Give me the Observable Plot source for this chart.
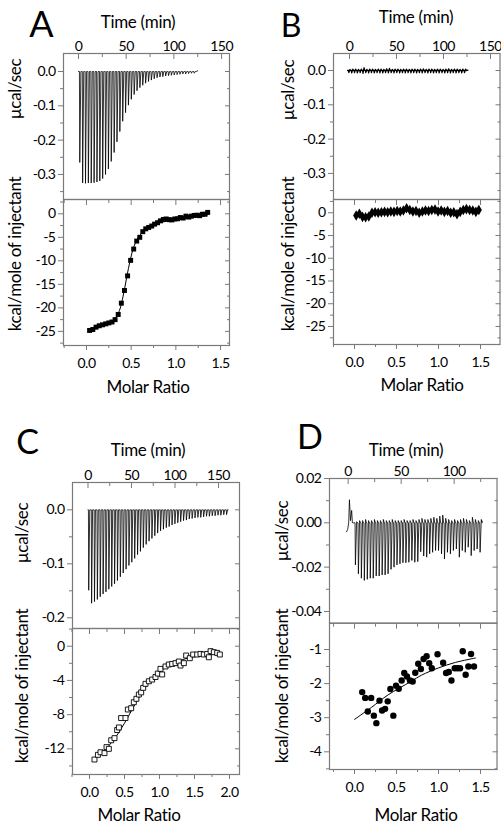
<!DOCTYPE html>
<html><head><meta charset="utf-8">
<script src="https://cdn.jsdelivr.net/npm/d3@7"></script>
<script src="https://cdn.jsdelivr.net/npm/@observablehq/plot@0.6"></script>
<style>
body{margin:0;background:#fff;}
#wrap{position:relative;width:501px;height:826px;overflow:hidden;font-family:Lato,sans-serif;color:#000;}
#wrap svg{position:absolute;left:0;top:0;overflow:visible;}
#wrap svg text{letter-spacing:-0.5px;}
.lbl{position:absolute;white-space:nowrap;line-height:1.2;transform:translate(-50%,-50%);font-size:17px;letter-spacing:-0.3px;}
.rot{transform:translate(-50%,-50%) rotate(-90deg);}
</style></head><body><div id="wrap"></div>
<script>
// ---------- Panel A ----------
const aTime = [1,4,7,10,13,16,19,22,25,28,31,34,37,40,43,46,49,52,55,58,61,64,67,70,73,76,79,82,85,88,91,94,97,100,103,106,109,112,115,118,121];
const aPeak = [-0.265,-0.325,-0.326,-0.325,-0.325,-0.324,-0.322,-0.319,-0.312,-0.30,-0.284,-0.262,-0.236,-0.205,-0.175,-0.145,-0.12,-0.098,-0.081,-0.067,-0.056,-0.047,-0.04,-0.034,-0.029,-0.025,-0.021,-0.018,-0.016,-0.015,-0.013,-0.012,-0.011,-0.01,-0.009,-0.008,-0.007,-0.007,-0.006,-0.005,-0.005];
const aRatio = [0.035,0.071,0.107,0.143,0.179,0.215,0.25,0.286,0.32,0.355,0.39,0.425,0.46,0.494,0.528,0.562,0.596,0.63,0.663,0.696,0.73,0.762,0.795,0.827,0.86,0.892,0.924,0.956,0.988,1.02,1.05,1.082,1.113,1.144,1.175,1.205,1.236,1.266,1.296,1.326,1.356];
const aHeat = [-24.8,-24.6,-24.1,-23.8,-23.6,-23.4,-23.2,-23.0,-22.5,-21.4,-19.0,-16.3,-13.2,-9.9,-7.5,-5.8,-5.0,-3.8,-3.2,-2.9,-2.6,-2.2,-1.9,-1.5,-1.2,-1.1,-1.25,-1.3,-1.1,-1.05,-0.8,-0.9,-0.5,-0.7,-0.5,-0.35,-0.3,-0.4,-0.1,-0.1,0.3];
const aFitX = [0.035,0.15,0.25,0.32,0.37,0.41,0.45,0.49,0.53,0.58,0.64,0.72,0.82,0.95,1.1,1.25,1.356];
const aFitY = [-24.7,-24.0,-23.2,-22.3,-20.5,-17.5,-13.5,-9.8,-7.0,-5.0,-3.7,-2.7,-1.9,-1.4,-1.0,-0.6,-0.2];

// ---------- Panel B ----------
const bTime = [-1,2,5,8,11,14,17,20,23,26,29,32,35,38,41,44,47,50,53,56,59,62,65,68,71,74,77,80,83,86,89,92,95,98,101,104,107,110,113,116,119,122];
const bPeak = [-0.006,-0.007,-0.006,-0.007,-0.006,-0.008,-0.006,-0.007,-0.006,-0.007,-0.006,-0.007,-0.007,-0.006,-0.007,-0.006,-0.007,-0.006,-0.007,-0.006,-0.007,-0.006,-0.007,-0.006,-0.007,-0.006,-0.007,-0.006,-0.007,-0.006,-0.007,-0.006,-0.007,-0.006,-0.007,-0.006,-0.007,-0.006,-0.007,-0.006,-0.007,-0.006];
const bPost = [0.003,0.004,0.004,0.003,0.004,0.008,0.003,0.004,0.004,0.003,0.004,0.004,0.003,0.005,0.006,0.003,0.004,0.004,0.003,0.004,0.004,0.003,0.004,0.004,0.003,0.004,0.005,0.003,0.004,0.004,0.003,0.004,0.004,0.003,0.004,0.005,0.003,0.004,0.004,0.003,0.004,0.004];
const bRatio = [0.02,0.058,0.095,0.132,0.17,0.208,0.245,0.282,0.32,0.358,0.395,0.432,0.47,0.508,0.545,0.582,0.62,0.658,0.695,0.732,0.77,0.808,0.845,0.882,0.92,0.958,0.995,1.032,1.07,1.108,1.145,1.182,1.22,1.258,1.295,1.332,1.37,1.408,1.445,1.48];
const bHeat = [-0.6,-0.2,-0.9,-1.0,-0.8,0.0,0.1,0.0,0.1,0.2,0.1,0.3,0.2,0.4,0.3,0.5,1.0,0.6,0.3,0.4,0.0,0.3,0.5,0.4,0.6,0.7,0.3,0.5,0.2,0.4,0.0,0.1,-0.3,0.2,0.6,0.8,0.6,0.5,0.2,0.6];

// ---------- Panel C ----------
const cTime = [0.5,3.8,7.1,10.4,13.7,17,20.3,23.6,26.9,30.2,33.5,36.8,40.1,43.4,46.7,50,53.3,56.6,59.9,63.2,66.5,69.8,73.1,76.4,79.7,83,86.3,89.6,92.9,96.2,99.5,102.8,106.1,109.4,112.7,116,119.3,122.6,125.9,129.2,132.5,135.8,139.1,142.4,145.7,149,152.3,155.6,158.9];
const cPeak = [-0.149,-0.173,-0.170,-0.166,-0.161,-0.156,-0.152,-0.147,-0.142,-0.137,-0.131,-0.124,-0.117,-0.11,-0.103,-0.097,-0.09,-0.083,-0.077,-0.07,-0.064,-0.058,-0.053,-0.048,-0.043,-0.039,-0.036,-0.033,-0.031,-0.028,-0.026,-0.024,-0.022,-0.02,-0.019,-0.017,-0.016,-0.015,-0.014,-0.014,-0.013,-0.012,-0.012,-0.011,-0.011,-0.01,-0.01,-0.009,-0.009];
const cRatio = [0.071,0.12,0.157,0.214,0.243,0.276,0.31,0.357,0.395,0.42,0.452,0.514,0.548,0.595,0.633,0.67,0.705,0.738,0.767,0.8,0.848,0.895,0.943,0.976,1.014,1.038,1.086,1.133,1.181,1.229,1.276,1.3,1.348,1.381,1.433,1.481,1.538,1.586,1.633,1.681,1.705,1.73,1.776,1.824,1.862];
const cHeat = [-13.25,-12.7,-12.4,-12.5,-11.8,-12.0,-11.0,-10.75,-9.8,-9.5,-8.4,-8.4,-7.4,-7.25,-6.55,-6.15,-5.65,-5.4,-4.87,-4.4,-4.1,-3.9,-3.6,-3.2,-2.65,-3.3,-2.37,-2.14,-2.07,-1.98,-1.79,-2.26,-1.98,-1.09,-1.4,-0.97,-0.97,-0.9,-0.97,-0.9,-1.29,-0.58,-0.7,-0.78,-0.97];
const cFitX = [0.06,0.2,0.35,0.5,0.65,0.8,0.95,1.1,1.25,1.4,1.6,1.86];
const cFitY = [-13.3,-12.3,-10.9,-9.0,-6.8,-4.8,-3.4,-2.4,-1.8,-1.4,-1.1,-0.85];

// ---------- Panel D ----------
const dPreT = [-1.5,-0.5,0.5,1.2,2.2,3.3,4.0,5.0];
const dPreV = [-0.004,-0.003,0.0,0.0104,0.001,0.0056,0.0,0.0];
const dTime = [6.5,9.3,12.1,14.9,17.7,20.5,23.3,26.1,28.9,31.7,34.5,37.3,40.1,42.9,45.7,48.5,51.3,54.1,56.9,59.7,62.5,65.3,68.1,70.9,73.7,76.5,79.3,82.1,84.9,87.7,90.5,93.3,96.1,98.9,101.7,104.5,107.3,110.1,112.9,115.7,118.5,121.3,124.1];
const dPeak = [-0.019,-0.023,-0.025,-0.026,-0.0255,-0.025,-0.025,-0.024,-0.024,-0.0235,-0.0235,-0.023,-0.021,-0.02,-0.019,-0.0185,-0.018,-0.018,-0.0178,-0.017,-0.0178,-0.0175,-0.013,-0.015,-0.0155,-0.014,-0.0133,-0.0125,-0.0125,-0.014,-0.0163,-0.0133,-0.014,-0.0125,-0.0118,-0.0155,-0.0125,-0.0133,-0.011,-0.0148,-0.0125,-0.0118,-0.0133];
const dPost = [0.0005,0.001,0.001,0.0015,0.001,0.001,0.0015,0.001,0.001,0.0015,0.001,0.001,0.0015,0.001,0.001,0.001,0.0015,0.001,0.001,0.0015,0.001,0.0015,0.002,0.0015,0.0015,0.002,0.0025,0.002,0.003,0.0035,0.002,0.0015,0.001,0.0015,0.001,0.0015,0.002,0.0015,0.001,0.0025,0.0015,0.001,0.0015];
const dRatio = [0.091,0.127,0.158,0.198,0.23,0.26,0.297,0.328,0.364,0.395,0.427,0.462,0.494,0.526,0.561,0.592,0.624,0.66,0.692,0.723,0.758,0.79,0.822,0.858,0.889,0.92,0.988,1.055,1.09,1.122,1.154,1.193,1.225,1.256,1.288,1.323,1.355,1.387,1.422];
const dHeat = [-2.25,-2.42,-2.82,-2.42,-2.94,-3.16,-2.5,-2.79,-2.74,-2.52,-2.16,-2.94,-2.06,-2.15,-1.91,-1.69,-1.79,-1.91,-1.94,-1.68,-1.42,-1.57,-1.28,-1.2,-1.4,-1.55,-1.14,-1.39,-1.69,-1.66,-1.91,-1.55,-1.55,-1.55,-1.05,-1.74,-1.5,-1.13,-1.5];
const dFitX = [0.0,0.2,0.4,0.67,0.8,1.0,1.2,1.44];
const dFitY = [-3.05,-2.7,-2.33,-1.94,-1.75,-1.54,-1.38,-1.25];

// ---------- Tick values ----------
const timeMajor = [0,50,100,150];
const timeMinor = [25,75,125];
const rawMajorABC = [0,-0.1,-0.2,-0.3];
const rawMinorABC = [-0.05,-0.15,-0.25,-0.35];
const heatMajorAB = [0,-5,-10,-15,-20,-25];
const heatMinorAB = [2.5,-2.5,-7.5,-12.5,-17.5,-22.5,-27.5];
const ratioMajor = [0,0.5,1,1.5];
const ratioMajorC = [0,0.5,1,1.5,2];
const ratioMinor = [-0.25,0.25,0.75,1.25];
const ratioMinorC = [-0.25,0.25,0.75,1.25,1.75];
const heatMajorC = [0,-4,-8,-12];
const heatMinorC = [2,-2,-6,-10,-14];
const rawMajorD = [0.02,0,-0.02,-0.04];
const rawMinorD = [0.01,-0.01,-0.03];
const heatMajorD = [-1,-2,-3,-4];
const heatMinorD = [-1.5,-2.5,-3.5,-4.5];

// ---------- helpers ----------
const W = 501, H = 826, FR = "#7a7a7a";
const hy = d => (d < 0 ? "-" : "") + Math.abs(d);
const f1 = d => (d < 0 ? "-" : "") + Math.abs(d).toFixed(1);
const f2 = d => (d < 0 ? "-" : "") + Math.abs(d).toFixed(2);
const f0 = d => String(d);

function trace(times, peaks, post, preT, preV, endT, endV) {
  const pts = [];
  if (preT) preT.forEach((t, i) => pts.push({t, v: preV[i]}));
  times.forEach((t, i) => {
    pts.push({t, v: 0});
    pts.push({t: t + 0.35, v: peaks[i]});
    pts.push({t: t + 1.5, v: post ? post[i] : 0});
    pts.push({t: t + 2.3, v: 0});
  });
  if (endT !== undefined) pts.push({t: endT, v: endV});
  return pts;
}
const zip = (xs, ys) => xs.map((x, i) => ({x, y: ys[i]}));

function tk(axis, vals, anchor, size) {
  return axis(vals, {anchor, tickSize: size, tickFormat: () => "", label: null, stroke: FR, strokeWidth: 1});
}
function lab(axis, vals, anchor, pad, fmt) {
  return axis(vals, {anchor, tickSize: 0, tickPadding: pad, tickFormat: fmt, label: null, fill: "#000", fontSize: 14});
}

function sub(frame, xDom, yDom, marks) {
  const [x0, y0, x1, y1] = frame;
  const svg = Plot.plot({
    width: W, height: H,
    marginLeft: x0, marginRight: W - x1, marginTop: y0, marginBottom: H - y1,
    x: {domain: xDom}, y: {domain: yDom},
    style: {background: "transparent", overflow: "visible", fontFamily: "Lato, sans-serif", fontSize: "14px"},
    marks: [...marks, Plot.frame({stroke: FR, strokeWidth: 1.2})]
  });
  document.getElementById("wrap").appendChild(svg);
}

function topPanel(frame, xDom, yDom, xMaj, xMin, yMaj, yMin, yFmt, data, lw) {
  sub(frame, xDom, yDom, [
    Plot.line(data, {x: "t", y: "v", stroke: "#000", strokeWidth: lw || 0.8}),
    tk(Plot.axisX, xMaj, "top", -5), tk(Plot.axisX, xMin, "top", -3),
    lab(Plot.axisX, xMaj, "top", 3, f0),
    tk(Plot.axisY, yMaj, "left", 5), tk(Plot.axisY, yMin, "left", 3),
    tk(Plot.axisY, yMaj, "right", -5), tk(Plot.axisY, yMin, "right", -3),
    lab(Plot.axisY, yMaj, "left", 8, yFmt)
  ]);
}
function botPanel(frame, xDom, yDom, xMaj, xMin, yMaj, yMin, yFmt, extra) {
  sub(frame, xDom, yDom, [
    ...extra,
    tk(Plot.axisX, xMaj, "bottom", 5), tk(Plot.axisX, xMin, "bottom", 3),
    tk(Plot.axisX, xMaj, "top", -5), tk(Plot.axisX, xMin, "top", -3),
    lab(Plot.axisX, xMaj, "bottom", 13, f1),
    tk(Plot.axisY, yMaj, "left", 5), tk(Plot.axisY, yMin, "left", 3),
    tk(Plot.axisY, yMaj, "right", -5), tk(Plot.axisY, yMin, "right", -3),
    lab(Plot.axisY, yMaj, "left", 8, yFmt)
  ]);
}

// A
topPanel([63,53,229,199], [-15.7,158.3], [-0.373,0.0525], timeMajor, timeMinor, rawMajorABC, rawMinorABC, f1,
  trace(aTime, aPeak, null, [0], [0], 125, 0.002));
botPanel([63,199,229,345], [-0.257,1.6], [-28,3.04], ratioMajor, ratioMinor, heatMajorAB, heatMinorAB, hy, [
  Plot.line(zip(aFitX, aFitY), {x: "x", y: "y", curve: "catmull-rom", stroke: "#000", strokeWidth: 1}),
  Plot.dot(zip(aRatio, aHeat), {x: "x", y: "y", symbol: "square", r: 2.8, fill: "#000"})
]);
// B
topPanel([333,53,499.5,199], [-17,160.1], [-0.376,0.0496], timeMajor, timeMinor, rawMajorABC, rawMinorABC, f1,
  trace(bTime, bPeak, bPost, [-2], [0], 126, 0.001), 1.3);
botPanel([333,199,499.5,344], [-0.25,1.732], [-28.96,2.92], ratioMajor, ratioMinor, heatMajorAB, heatMinorAB, hy, [
  Plot.line(zip(bRatio, bHeat), {x: "x", y: "y", stroke: "#000", strokeWidth: 1.8}),
  Plot.dot(zip(bRatio, bHeat), {x: "x", y: "y", symbol: "diamond", r: 3.2, fill: "#000"})
]);
// C
topPanel([72,482,239,628], [-17.8,174.1], [-0.2198,0.0506], timeMajor, timeMinor, [0,-0.1,-0.2], [-0.05,-0.15], f1,
  trace(cTime, cPeak, null, [0], [0], 161, 0));
botPanel([72,628,239,774], [-0.243,2.143], [-15,2.07], ratioMajorC, ratioMinorC, heatMajorC, heatMinorC, hy, [
  Plot.line(zip(cFitX, cFitY), {x: "x", y: "y", curve: "catmull-rom", stroke: "#000", strokeWidth: 1}),
  Plot.dot(zip(cRatio, cHeat), {x: "x", y: "y", symbol: "square", r: 2.8, fill: "#fff", stroke: "#000", strokeWidth: 0.9})
]);
// D
topPanel([329,478,496.5,622.7], [-17.6,140.4], [-0.0453,0.02], [0,50,100], timeMinor, rawMajorD, rawMinorD, f2,
  trace(dTime, dPeak, dPost, dPreT, dPreV, 126, 0.001));
botPanel([329,622.7,496.5,769], [-0.298,1.696], [-4.519,-0.229], ratioMajor, ratioMinor, heatMajorD, heatMinorD, hy, [
  Plot.line(zip(dFitX, dFitY), {x: "x", y: "y", curve: "catmull-rom", stroke: "#000", strokeWidth: 1}),
  Plot.dot(zip(dRatio, dHeat), {x: "x", y: "y", r: 3.2, fill: "#000"})
]);

// ---------- text labels ----------
const texts = [
  ["A", 41.5, 23, 36, false], ["B", 291, 25, 32, false], ["C", 27.5, 441, 34, false], ["D", 310, 436, 34, false],
  ["Time (min)", 138, 22, 17, false], ["Time (min)", 416, 17, 17, false], ["Time (min)", 148, 450, 17, false], ["Time (min)", 406, 450, 17, false],
  ["Molar Ratio", 148, 387, 17, false], ["Molar Ratio", 422, 385, 17, false], ["Molar Ratio", 139, 815, 17, false], ["Molar Ratio", 416, 815, 17, false],
  ["µcal/sec", 15, 89, 17, true], ["µcal/sec", 288, 90, 17, true], ["µcal/sec", 22, 533, 17, true], ["µcal/sec", 282, 531, 17, true],
  ["kcal/mole of injectant", 15, 254, 17, true], ["kcal/mole of injectant", 288, 254, 17, true], ["kcal/mole of injectant", 22, 686, 17, true], ["kcal/mole of injectant", 282, 686, 17, true]
];
const wrap = document.getElementById("wrap");
texts.forEach(([s, x, y, fs, rot]) => {
  const d = document.createElement("div");
  d.className = "lbl" + (rot ? " rot" : "");
  d.textContent = s;
  d.style.left = x + "px"; d.style.top = y + "px"; d.style.fontSize = fs + "px";
  if (fs > 30) { d.style.letterSpacing = "0"; d.style.lineHeight = "1.25"; }
  wrap.appendChild(d);
});
</script></body></html>
